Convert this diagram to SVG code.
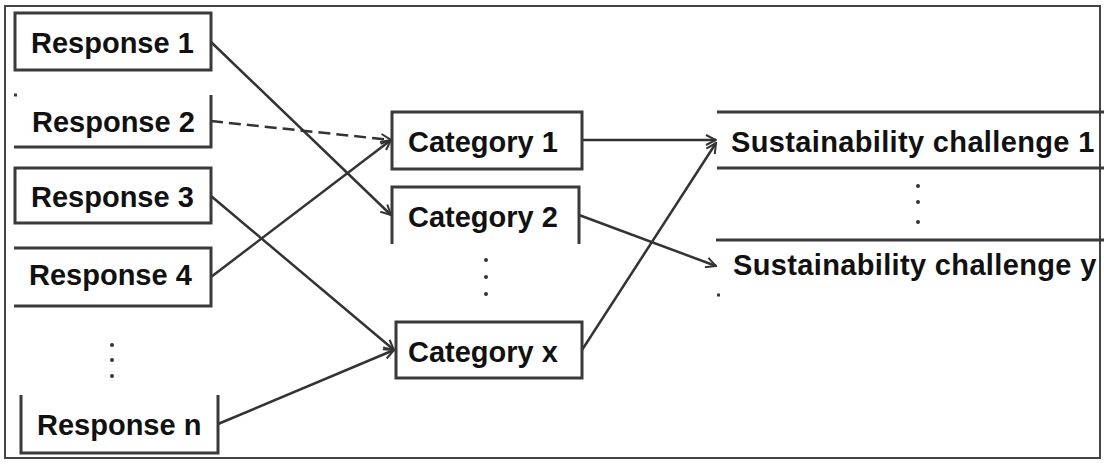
<svg xmlns="http://www.w3.org/2000/svg" width="1104" height="464" viewBox="0 0 1104 464">
<defs>
<marker id="arr" viewBox="0 0 12 12" refX="11" refY="6" markerWidth="12" markerHeight="12" markerUnits="userSpaceOnUse" orient="auto">
<path d="M1,1 L11,6 L1,11" fill="none" stroke="#333" stroke-width="2"/>
</marker>
<style>
.box{fill:none;stroke:#3a3a3a;stroke-width:3}
.t{font-family:"Liberation Sans",Arial,sans-serif;font-weight:bold;font-size:29px;fill:#111;letter-spacing:0px}
.s{letter-spacing:0.35px}
.c{fill:none;stroke:#333;stroke-width:2.5;marker-end:url(#arr)}
.dot{fill:#333}
</style>
</defs>
<rect x="0" y="0" width="1104" height="464" fill="#fff"/>
<rect x="5" y="6" width="1095" height="452" fill="none" stroke="#444" stroke-width="2"/>
<g id="connectors">
<line class="c" x1="211" y1="42" x2="391" y2="215"/>
<line class="c" x1="211" y1="121" x2="391" y2="140" stroke-dasharray="12,6"/>
<line class="c" x1="211" y1="196" x2="394" y2="350"/>
<line class="c" x1="211" y1="277" x2="391" y2="140"/>
<line class="c" x1="218" y1="424" x2="394" y2="350"/>
<line class="c" x1="582" y1="140" x2="716" y2="140"/>
<line class="c" x1="579" y1="215" x2="716" y2="266"/>
<line class="c" x1="582" y1="350" x2="716" y2="143"/>
</g>
<g id="response1"><rect class="box" x="15" y="13" width="196" height="57"/><text class="t" x="31" y="53">Response 1</text></g>
<g id="response2"><path class="box" d="M14,95 L17,95 M211,95 L211,147 L14,147"/><text class="t" x="32" y="132">Response 2</text></g>
<g id="response3"><rect class="box" x="15" y="168" width="196" height="55"/><text class="t" x="31" y="207">Response 3</text></g>
<g id="response4"><path class="box" d="M14,248 L211,248 L211,306 L14,306"/><text class="t" x="29" y="285">Response 4</text></g>
<g id="response-dots"><circle class="dot" cx="112" cy="345" r="2"/><circle class="dot" cx="112" cy="360" r="2"/><circle class="dot" cx="112" cy="376" r="2"/></g>
<g id="responseN"><path class="box" d="M21,395 L21,453 L218,453 L218,395"/><text class="t" x="37" y="435">Response n</text></g>
<g id="category1"><rect class="box" x="392" y="112" width="190" height="57"/><text class="t" x="408" y="152">Category 1</text></g>
<g id="category2"><path class="box" d="M392,244 L392,187 L579,187 L579,244"/><text class="t" x="408" y="227">Category 2</text></g>
<g id="category-dots"><circle class="dot" cx="486" cy="260" r="2"/><circle class="dot" cx="486" cy="277" r="2"/><circle class="dot" cx="486" cy="294" r="2"/></g>
<g id="categoryx"><rect class="box" x="396" y="322" width="186" height="56"/><text class="t" x="408" y="362">Category x</text></g>
<g id="challenge1"><path class="box" d="M717,112 L1104,112 M717,168 L1104,168"/><text class="t s" x="731" y="152">Sustainability challenge 1</text></g>
<g id="challenge-dots"><circle class="dot" cx="918" cy="186" r="2"/><circle class="dot" cx="918" cy="202" r="2"/><circle class="dot" cx="918" cy="222" r="2"/></g>
<g id="challengey"><path class="box" d="M716,240 L1104,240 M717,295 L720,295"/><text class="t s" x="733" y="275">Sustainability challenge y</text></g>
</svg>
